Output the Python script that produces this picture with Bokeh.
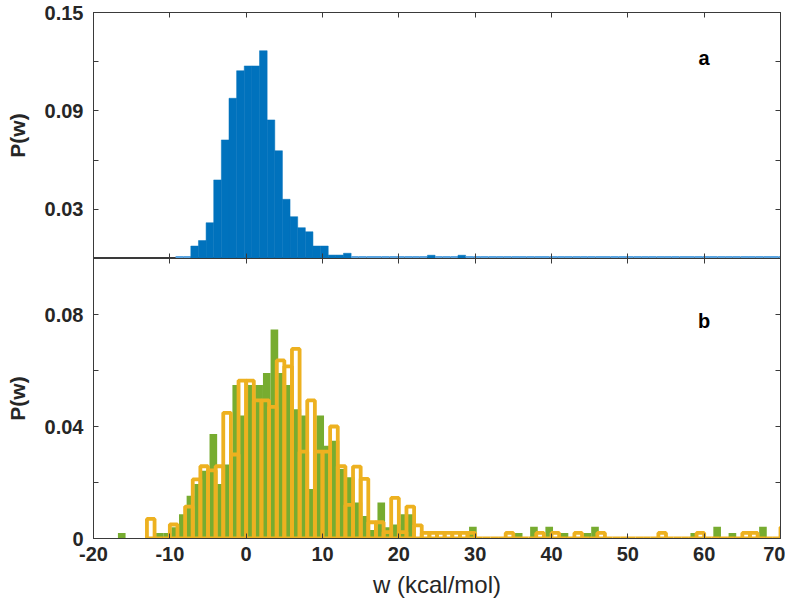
import numpy as np
from bokeh.plotting import figure
from bokeh.layouts import column
from bokeh.models import (ColumnDataSource, Range1d, FixedTicker, LinearAxis, Label)
from bokeh.embed import file_html
from bokeh.resources import INLINE

# ---------------- data ----------------
x_ticks = [-20, -10, 0, 10, 20, 30, 40, 50, 60, 70]
x_tick_labels = ["-20", "-10", "0", "10", "20", "30", "40", "50", "60", "70"]

# panel a: bins of width 1 starting at -9.25
a_bin_start = -9.25
a_bin_width = 1.0
a_values = [0, 0, 0.0076, 0.0109, 0.0218, 0.0479, 0.0723, 0.0977, 0.1145, 0.1174,
            0.1174, 0.1267, 0.0845, 0.0657, 0.0361, 0.0255, 0.0188, 0.0163, 0.0076, 0.0076,
            0.0021, 0.0021, 0.0032, 0, 0, 0, 0, 0, 0, 0,
            0, 0, 0, 0.002, 0, 0, 0, 0.002, 0, 0,
            0, 0, 0, 0, 0, 0, 0, 0, 0, 0,
            0, 0, 0, 0, 0, 0, 0, 0, 0, 0,
            0, 0, 0, 0, 0, 0, 0, 0, 0, 0,
            0, 0, 0, 0, 0, 0, 0, 0, 0, 0]
a_yticks_labelled = [0.03, 0.09, 0.15]
a_ytick_labels = ["0.03", "0.09", "0.15"]
a_yticks_unlabelled = [0.06, 0.12]

# panel b, green (filled) histogram: bins of width 1 starting at -16.8
g_bin_start = -16.8
g_bin_width = 1.0
g_values = [0.002, 0, 0, 0, 0, 0.002, 0.002, 0.004, 0.0087, 0.0153,
            0.0195, 0.0242, 0.0373, 0.0195, 0.0264, 0.0548, 0.0439, 0.0548, 0.0548, 0.0591,
            0.0746, 0.0591, 0.0548, 0.0462, 0.0439, 0.0177, 0.0439, 0.0331, 0.0349, 0.0248,
            0.0219, 0.0129, 0.008, 0.003, 0.0129, 0.004, 0.005, 0.0087, 0.0087, 0,
            0, 0, 0, 0, 0, 0, 0.0042, 0, 0, 0,
            0, 0, 0.002, 0, 0.0042, 0, 0.0042, 0, 0.002, 0,
            0, 0.002, 0.0042, 0, 0, 0, 0, 0, 0, 0,
            0, 0, 0, 0, 0, 0.002, 0, 0, 0.0042, 0,
            0.002, 0, 0, 0, 0.0042]

# panel b, orange (outline) histogram: bins of width 1 starting at -13
o_bin_start = -13.0
o_bin_width = 1.0
o_values = [0.007, 0, 0, 0.005, 0, 0.0114, 0.0211, 0.0258, 0.0243, 0.0258,
            0.0449, 0.030, 0.0564, 0.0564, 0.0493, 0.0493, 0.047, 0.0636, 0.0615, 0.0677,
            0.031, 0.0493, 0.031, 0.031, 0.040, 0.0258, 0.012, 0.0257, 0.0213, 0.0058,
            0.0058, 0.0023, 0.0145, 0.0023, 0.0114, 0.0047, 0.002, 0.002, 0.002, 0.002,
            0.002, 0.002, 0.002, 0, 0, 0, 0, 0.002, 0, 0,
            0, 0.002, 0, 0.002, 0, 0, 0.002, 0, 0, 0.002,
            0, 0, 0, 0, 0, 0, 0, 0.002, 0, 0,
            0, 0, 0.002, 0, 0, 0, 0, 0, 0.002, 0.002,
            0, 0, 0, 0.004]
b_yticks_labelled = [0, 0.04, 0.08]
b_ytick_labels = ["0", "0.04", "0.08"]
b_yticks_unlabelled = [0.02, 0.06, 0.10]

# ---------------- style ----------------
FONT = "Liberation Sans"
AX = "#3a3a3a"
TXT = "#262626"
BLUE = "#0072BD"
LIGHTBLUE = "#5aa5e2"
GREEN = "#77AC30"
ORANGE = "#EDB120"


def hist_source(start, width, vals):
    vals = np.asarray(vals, dtype=float)
    left = start + width * np.arange(len(vals))
    return dict(left=left, right=left + width, top=vals, bottom=np.zeros(len(vals)))


def tick_style(ax):
    ax.axis_line_color = AX
    ax.major_tick_line_color = AX
    ax.minor_tick_line_color = AX
    ax.major_tick_in = 5
    ax.major_tick_out = 0
    ax.minor_tick_in = 5
    ax.minor_tick_out = 0
    ax.major_label_text_font = FONT
    ax.major_label_text_font_style = "bold"
    ax.major_label_text_font_size = "20px"
    ax.major_label_text_color = TXT
    ax.axis_label_text_font = FONT
    ax.axis_label_text_color = TXT


def style_axes(p, ylab_ticks, ylab_labels, yunlab_ticks, show_xlabels):
    p.grid.visible = False
    p.outline_line_color = AX
    p.outline_line_width = 1
    p.background_fill_color = "white"
    p.border_fill_color = "white"
    # mirrored tick-only axes (MATLAB "box on")
    top_ax = LinearAxis(ticker=FixedTicker(ticks=[], minor_ticks=x_ticks))
    right_ax = LinearAxis(ticker=FixedTicker(ticks=[], minor_ticks=ylab_ticks + yunlab_ticks))
    p.add_layout(top_ax, "above")
    p.add_layout(right_ax, "right")
    bx = p.below[0]
    if show_xlabels:
        bx.ticker = FixedTicker(ticks=x_ticks)
        bx.major_label_overrides = {float(t): l for t, l in zip(x_ticks, x_tick_labels)}
    else:
        bx.ticker = FixedTicker(ticks=[], minor_ticks=x_ticks)
    ly = p.left[0]
    ly.ticker = FixedTicker(ticks=ylab_ticks, minor_ticks=yunlab_ticks)
    ly.major_label_overrides = {float(t): l for t, l in zip(ylab_ticks, ylab_labels)}
    for ax in p.axis:
        tick_style(ax)
    ly.major_label_standoff = 10
    ly.axis_label = "P(w)"
    ly.axis_label_text_font_style = "bold"
    ly.axis_label_text_font_size = "21px"
    ly.axis_label_standoff = 13


# ---------------- panel a ----------------
pa = figure(frame_width=687, frame_height=246, x_range=Range1d(-20, 70), y_range=Range1d(0, 0.15),
            output_backend="svg", toolbar_location=None,
            min_border_left=93, min_border_right=5, min_border_top=12, min_border_bottom=0)
sa = hist_source(a_bin_start, a_bin_width, a_values)
sa["lc"] = [BLUE if v > 0 else LIGHTBLUE for v in a_values]
sa["lw"] = [0.5 if v > 0 else 5.0 for v in a_values]
pa.quad(left="left", right="right", top="top", bottom="bottom", source=ColumnDataSource(sa),
        fill_color=BLUE, line_color="lc", line_width="lw")
style_axes(pa, a_yticks_labelled, a_ytick_labels, a_yticks_unlabelled, show_xlabels=False)
pa.add_layout(Label(x=60, y=0.122, text="a", text_font=FONT, text_font_style="bold",
                    text_font_size="20px", text_color="black", text_align="center",
                    text_baseline="middle"))

# ---------------- panel b ----------------
pb = figure(frame_width=687, frame_height=280, x_range=pa.x_range, y_range=Range1d(0, 0.10),
            output_backend="svg", toolbar_location=None,
            min_border_left=93, min_border_right=5, min_border_top=0, min_border_bottom=5)
sg = hist_source(g_bin_start, g_bin_width, g_values)
pb.quad(left="left", right="right", top="top", bottom="bottom", source=ColumnDataSource(sg),
        fill_color=GREEN, line_color=None)
so = hist_source(o_bin_start, o_bin_width, o_values)
pb.quad(left="left", right="right", top="top", bottom="bottom", source=ColumnDataSource(so),
        fill_color=None, line_color=ORANGE, line_width=3.8)
style_axes(pb, b_yticks_labelled, b_ytick_labels, b_yticks_unlabelled, show_xlabels=True)
pb.below[0].axis_label = "w (kcal/mol)"
pb.below[0].axis_label_text_font_style = "normal"
pb.below[0].axis_label_text_font_size = "24px"
pb.below[0].major_label_standoff = 8
pb.below[0].axis_label_standoff = 7
pb.add_layout(Label(x=60, y=0.0777, text="b", text_font=FONT, text_font_style="bold",
                    text_font_size="20px", text_color="black", text_align="center",
                    text_baseline="middle"))

layout = column(pa, pb, spacing=0)
open("out.html", "w").write(file_html(layout, INLINE))
